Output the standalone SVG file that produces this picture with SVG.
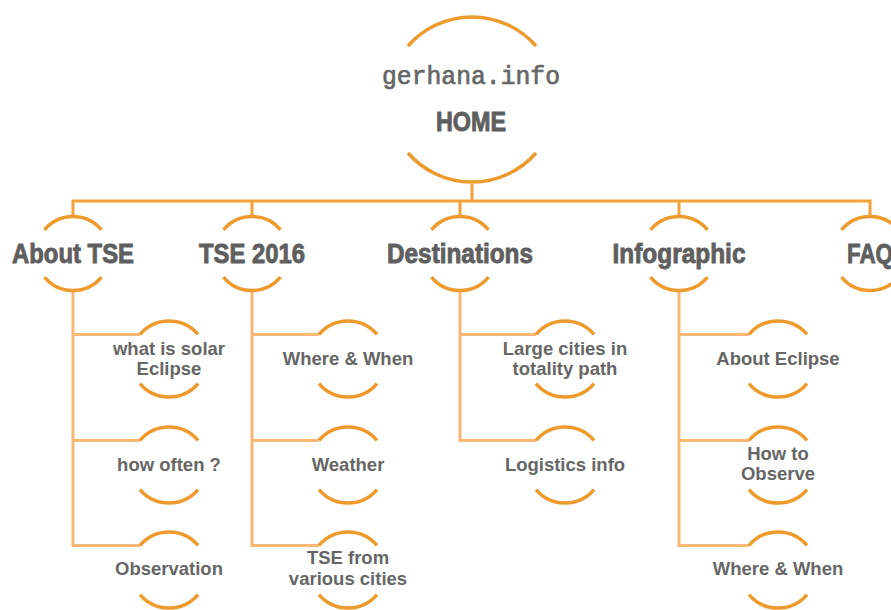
<svg xmlns="http://www.w3.org/2000/svg" width="891" height="610" viewBox="0 0 891 610">
<style>
.arc{fill:none;stroke:#EE9A2C;stroke-width:3.5;stroke-linecap:butt}
.main{fill:none;stroke:#F3A23A;stroke-width:3}
.sub{fill:none;stroke:#F9B876;stroke-width:3}
.l1{font-family:"Liberation Sans Narrow","Liberation Sans",sans-serif;font-weight:bold;font-size:27px;fill:#5F5F5F;stroke:#5F5F5F;stroke-width:0.9;text-anchor:middle}
.l2{font-family:"Liberation Sans",Arial,sans-serif;font-weight:bold;font-size:18.5px;fill:#666666;text-anchor:middle}
.logo{font-family:"Liberation Mono","Courier New",monospace;font-size:26px;fill:#666666;stroke:#666666;stroke-width:0.7;text-anchor:middle}
</style>
<rect width="891" height="610" fill="#FFFFFF"/>
<g id="connectors">
<path class="main" d="M472,184 V201 M73,216.5 V201 H870 V216.5 M252,201 V216.5 M460,201 V216.5 M679,201 V216.5"/>
<path class="sub" d="M73,290.5 V545.4 H140 M73,334.4 H140 M73,440.4 H140"/>
<path class="sub" d="M252,290.5 V545.4 H319 M252,334.4 H319 M252,440.4 H319"/>
<path class="sub" d="M460,290.5 V440.4 H536 M460,334.4 H536"/>
<path class="sub" d="M679,290.5 V545.4 H749 M679,334.4 H749 M679,440.4 H749"/>
</g>
<g id="home">
<path class="arc" d="M408,46 A85,85 0 0 1 536,46 M408,153 A85,85 0 0 0 536,153"/>
<text class="logo" x="471" y="84" textLength="178" lengthAdjust="spacingAndGlyphs">gerhana.info</text>
<text class="l1" x="471" y="131" textLength="70" lengthAdjust="spacingAndGlyphs">HOME</text>
</g>
<g id="about-tse">
<path class="arc" d="M44.5,229.9 A37,37 0 0 1 101.5,229.9 M44.5,277.1 A37,37 0 0 0 101.5,277.1"/>
<text class="l1" x="73" y="263" textLength="122" lengthAdjust="spacingAndGlyphs">About TSE</text>
</g>
<g id="tse-2016">
<path class="arc" d="M223.5,229.9 A37,37 0 0 1 280.5,229.9 M223.5,277.1 A37,37 0 0 0 280.5,277.1"/>
<text class="l1" x="252" y="263" textLength="106" lengthAdjust="spacingAndGlyphs">TSE 2016</text>
</g>
<g id="destinations">
<path class="arc" d="M431.5,229.9 A37,37 0 0 1 488.5,229.9 M431.5,277.1 A37,37 0 0 0 488.5,277.1"/>
<text class="l1" x="460" y="263" textLength="146" lengthAdjust="spacingAndGlyphs">Destinations</text>
</g>
<g id="infographic">
<path class="arc" d="M650.5,229.9 A37,37 0 0 1 707.5,229.9 M650.5,277.1 A37,37 0 0 0 707.5,277.1"/>
<text class="l1" x="679" y="263" textLength="133" lengthAdjust="spacingAndGlyphs">Infographic</text>
</g>
<g id="faq">
<path class="arc" d="M841.5,229.9 A37,37 0 0 1 898.5,229.9 M841.5,277.1 A37,37 0 0 0 898.5,277.1"/>
<text class="l1" x="870" y="263" textLength="46" lengthAdjust="spacingAndGlyphs">FAQ</text>
</g>
<g id="what-is-solar-eclipse">
<path class="arc" d="M140,334.4 A38,38 0 0 1 198,334.4 M140,383.6 A38,38 0 0 0 198,383.6"/>
<text class="l2" x="169" y="355">what is solar</text>
<text class="l2" x="169" y="375">Eclipse</text>
</g>
<g id="how-often">
<path class="arc" d="M140,440.4 A38,38 0 0 1 198,440.4 M140,489.6 A38,38 0 0 0 198,489.6"/>
<text class="l2" x="169" y="471">how often ?</text>
</g>
<g id="observation">
<path class="arc" d="M140,545.4 A38,38 0 0 1 198,545.4 M140,594.6 A38,38 0 0 0 198,594.6"/>
<text class="l2" x="169" y="575">Observation</text>
</g>
<g id="where-when-1">
<path class="arc" d="M319,334.4 A38,38 0 0 1 377,334.4 M319,383.6 A38,38 0 0 0 377,383.6"/>
<text class="l2" x="348" y="365">Where &amp; When</text>
</g>
<g id="weather">
<path class="arc" d="M319,440.4 A38,38 0 0 1 377,440.4 M319,489.6 A38,38 0 0 0 377,489.6"/>
<text class="l2" x="348" y="471">Weather</text>
</g>
<g id="tse-from-various-cities">
<path class="arc" d="M319,545.4 A38,38 0 0 1 377,545.4 M319,594.6 A38,38 0 0 0 377,594.6"/>
<text class="l2" x="348" y="564">TSE from</text>
<text class="l2" x="348" y="585">various cities</text>
</g>
<g id="large-cities">
<path class="arc" d="M536,334.4 A38,38 0 0 1 594,334.4 M536,383.6 A38,38 0 0 0 594,383.6"/>
<text class="l2" x="565" y="355">Large cities in</text>
<text class="l2" x="565" y="375">totality path</text>
</g>
<g id="logistics-info">
<path class="arc" d="M536,440.4 A38,38 0 0 1 594,440.4 M536,489.6 A38,38 0 0 0 594,489.6"/>
<text class="l2" x="565" y="471">Logistics info</text>
</g>
<g id="about-eclipse">
<path class="arc" d="M749,334.4 A38,38 0 0 1 807,334.4 M749,383.6 A38,38 0 0 0 807,383.6"/>
<text class="l2" x="778" y="365">About Eclipse</text>
</g>
<g id="how-to-observe">
<path class="arc" d="M749,440.4 A38,38 0 0 1 807,440.4 M749,489.6 A38,38 0 0 0 807,489.6"/>
<text class="l2" x="778" y="460">How to</text>
<text class="l2" x="778" y="480">Observe</text>
</g>
<g id="where-when-2">
<path class="arc" d="M749,545.4 A38,38 0 0 1 807,545.4 M749,594.6 A38,38 0 0 0 807,594.6"/>
<text class="l2" x="778" y="575">Where &amp; When</text>
</g>
</svg>
